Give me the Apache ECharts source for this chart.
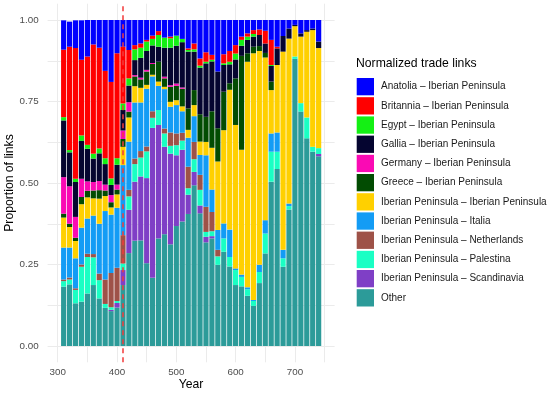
<!DOCTYPE html>
<html><head><meta charset="utf-8">
<script src="https://cdn.jsdelivr.net/npm/echarts@6/dist/echarts.min.js"></script>
<style>html,body{margin:0;padding:0;background:#fff}#c{width:550px;height:394px}</style>
</head><body><div id="c"></div>
<script>
// ---- data ----
const years = [310,320,330,340,350,360,370,380,390,400,410,420,430,440,450,460,470,480,490,500,510,520,530,540,550,560,570,580,590,600,610,620,630,640,650,660,670,680,690,700,710,720,730,740];
const xTicks = [300,400,500,600,700];
const yTicks = [0,0.25,0.5,0.75,1];
const eventYear = 410;

const anatolia    = [.090,.077,.085,.121,.112,.075,.085,.156,.190,.102,.082,.092,.077,.072,.061,.048,.034,.054,.051,.048,.058,.087,.072,.118,.099,.107,.158,.105,.095,.077,.051,.041,.031,.029,.033,.061,.082,.049,.026,.015,.041,.031,.026,.066];
const britannia   = [.207,.317,.401,.232,.271,.335,.309,.268,.296,.322,.174,.087,.013,.013,.005,.010,.012,0,.005,0,0,.005,.018,.022,.029,.015,0,.028,.033,.026,.010,.010,.012,.017,.039,.077,.005,0,0,0,0,0,0,0];
const egypt       = [.010,.007,.010,.017,.012,.015,.015,.018,.020,.020,.020,.022,.033,.031,.029,.020,.036,.031,.029,.031,.010,.005,.007,.006,.005,.005,0,.005,.008,.018,.018,.010,.008,0,0,.003,0,0,0,0,0,0,0,0];
const gallia      = [.174,.104,.107,.116,.100,.072,.085,.063,.031,.061,.063,.051,.046,.061,.058,.054,.046,.089,.115,.116,.139,.174,.118,.143,.164,.153,.174,.082,.058,.058,.031,.041,.031,.034,.029,.048,.051,.048,.031,.004,.010,.005,.005,.020];
const germany     = [.112,.115,.064,.056,.029,.026,.028,.018,.022,.015,.026,.029,.004,.005,.005,.003,0,.005,.005,.007,.004,0,0,0,0,0,0,0,0,0,0,0,0,0,0,0,0,0,0,0,0,0,0,0];
const greece      = [.012,.010,.010,.022,.020,.024,.026,.017,.016,.015,.024,.018,.030,.026,.041,.033,.061,.026,.046,.044,.054,.066,.046,.084,.077,.112,.102,.118,.020,.143,.288,.026,.020,.015,.014,.026,0,0,0,0,0,0,0,0];
const iberian     = [.092,.063,.053,.072,.065,.053,.077,.046,.022,.041,.056,.074,.050,.045,.012,.005,.013,.007,.015,.015,.015,.024,.034,.041,.041,.128,.210,.286,.429,.440,.383,.692,.757,.656,.499,.133,.207,.608,.506,.093,.204,.263,.358,.307];
const italia      = [.098,.092,.092,.113,.108,.118,.153,.210,.179,.184,.215,.148,.172,.149,.177,.107,.074,.121,.079,.087,.066,.089,.079,.061,.158,.069,.061,.046,.084,.005,.007,.006,.003,.022,.041,.056,.059,.026,.008,0,0,0,0,0];
const netherlands = [.005,.006,.005,.007,.010,.010,.020,.075,.105,.102,.087,.020,.017,.020,.015,.020,0,.015,.041,.036,.024,.066,.053,.046,.077,.059,.020,0,0,0,0,0,0,0,0,0,0,0,0,0,0,0,0,0];
const palestina   = [.017,.015,.041,.107,.112,.085,.056,.012,.008,.006,.020,.041,.054,.058,.082,.031,.046,.041,.024,.031,.028,.020,.039,.048,.015,.015,.026,.041,.029,.046,.029,.020,.015,.034,.061,.092,.053,.026,.010,.007,.026,.064,.015,.018];
const scandinavia = [0,0,0,0,0,0,0,0,.004,.014,.046,.133,.181,.196,.261,.460,.348,.268,.278,.217,.220,.059,.041,.024,.017,.007,0,0,0,0,0,0,0,0,0,0,0,0,0,0,0,0,0,.007];
const other       = [.182,.189,.131,.136,.161,.187,.146,.117,.107,.118,.187,.285,.323,.324,.254,.209,.330,.343,.312,.368,.382,.405,.493,.407,.318,.330,.249,.289,.244,.187,.183,.154,.123,.193,.284,.504,.543,.243,.419,.881,.719,.637,.596,.582];

const names = ['Anatolia – Iberian Peninsula','Britannia – Iberian Peninsula','Egypt – Iberian Peninsula','Gallia – Iberian Peninsula','Germany – Iberian Peninsula','Greece – Iberian Peninsula','Iberian Peninsula – Iberian Peninsula','Iberian Peninsula – Italia','Iberian Peninsula – Netherlands','Iberian Peninsula – Palestina','Iberian Peninsula – Scandinavia','Other'];
const values = [anatolia,britannia,egypt,gallia,germany,greece,iberian,italia,netherlands,palestina,scandinavia,other];
const colors = ['#0000FF','#FF0000','#14F014','#050530','#FA0AB4','#024C02','#FFD000','#139CF5','#9E5248','#1AFFC4','#7F3FC6','#2C9B99'];

// ---- chart ----
const FONT = '"Liberation Sans", Arial, Helvetica, sans-serif';
const chart = echarts.init(document.getElementById('c'), null, {renderer: 'canvas'});

const series = [];
for (let i = names.length - 1; i >= 0; i--) {
  series.push({
    name: names[i], type: 'bar', stack: 'total',
    xAxisIndex: 0, yAxisIndex: 0,
    barWidth: 5.2,
    itemStyle: {color: colors[i]},
    emphasis: {disabled: true},
    data: values[i]
  });
}
series.push({
  type: 'line', xAxisIndex: 2, yAxisIndex: 2, data: [], z: 20,
  markLine: {
    silent: true, symbol: 'none', label: {show: false},
    lineStyle: {color: '#F23A3A', type: [5, 4], width: 1.5},
    data: [{xAxis: eventYear}]
  }
});

const isTick = (arr, v) => arr.some(t => Math.abs(t - v) < 1e-6);
const hidden = {axisLine: {show: false}, axisTick: {show: false}, axisLabel: {show: false}, splitLine: {show: false}};

chart.setOption({
  animation: false,
  textStyle: {fontFamily: FONT},
  title: {
    text: 'Normalized trade links', left: 356, top: 58, padding: 0,
    textStyle: {fontFamily: FONT, fontSize: 12.2, fontWeight: 'normal', color: '#000'}
  },
  legend: {
    data: names, orient: 'vertical', left: 356.7, top: 78, padding: 0,
    itemWidth: 17.3, itemHeight: 17.3, itemGap: 1.9, icon: 'rect',
    selectedMode: false,
    textStyle: {fontFamily: FONT, fontSize: 10, color: '#1A1A1A', padding: [0, 0, 0, 2]}
  },
  grid: [
    {left: 60.7, right: 228.4, top: 20, bottom: 48, outerBoundsMode: 'none'},
    {left: 47.6, right: 215.4, top: 20, bottom: 48, outerBoundsMode: 'none'},
    {left: 57.7, right: 225.4, top: 3.7, bottom: 31.7, outerBoundsMode: 'none'}
  ],
  xAxis: [
    Object.assign({type: 'category', gridIndex: 0, data: years, boundaryGap: true}, hidden),
    Object.assign({type: 'value', gridIndex: 1, min: 0, max: 1}, hidden),
    {type: 'value', gridIndex: 2, min: 300, max: 750, interval: 50,
     axisLine: {show: false}, axisTick: {show: false},
     axisLabel: {margin: 5, fontSize: 9.8, color: '#4D4D4D', fontFamily: FONT,
       formatter: v => isTick(xTicks, v) ? String(v) : ''},
     splitLine: {show: true, lineStyle: {color: '#EBEBEB', width: 1}}}
  ],
  yAxis: [
    Object.assign({type: 'value', gridIndex: 0, min: 0, max: 1}, hidden),
    {type: 'value', gridIndex: 1, min: 0, max: 1, interval: 0.125,
     axisLine: {show: false}, axisTick: {show: false},
     axisLabel: {margin: 9, fontSize: 9.8, color: '#4D4D4D', fontFamily: FONT,
       formatter: v => isTick(yTicks, v) ? v.toFixed(2) : ''},
     splitLine: {show: true, lineStyle: {color: '#EBEBEB', width: 1}}},
    Object.assign({type: 'value', gridIndex: 2, min: 0, max: 1}, hidden)
  ],
  graphic: [
    {type: 'text', x: 191.1, y: 385, silent: true,
     style: {text: 'Year', fill: '#000', font: '12.2px ' + FONT, align: 'center', verticalAlign: 'middle'}},
    {type: 'text', x: 10, y: 183, rotation: Math.PI / 2, silent: true,
     style: {text: 'Proportion of links', fill: '#000', font: '12.2px ' + FONT, align: 'center', verticalAlign: 'middle'}}
  ],
  series: series
});
</script>
</body></html>
